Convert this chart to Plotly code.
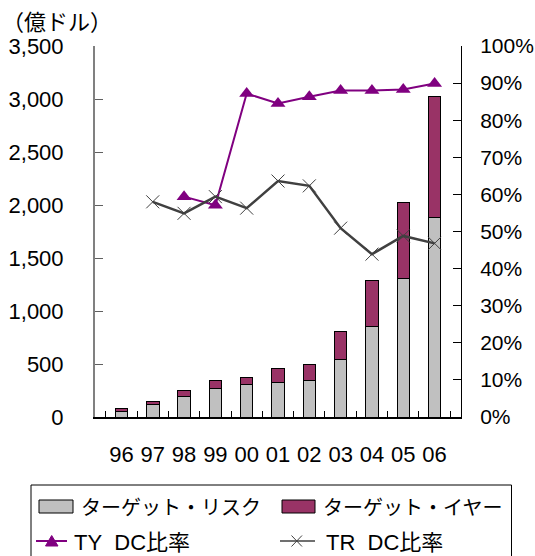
import plotly.graph_objects as go

years = ["96", "97", "98", "99", "00", "01", "02", "03", "04", "05", "06"]
target_risk = [55, 117, 196, 266, 305, 330, 340, 546, 855, 1311, 1884]
target_year = [25, 26, 51, 77, 72, 126, 157, 262, 435, 714, 1138]
ty_dc = [None, None, 0.594, 0.571, 0.872, 0.845, 0.863, 0.880, 0.880, 0.883, 0.899]
tr_dc = [None, 0.580, 0.549, 0.594, 0.563, 0.636, 0.623, 0.509, 0.439, 0.488, 0.468]

legend_names = ["ターゲット・リスク", "ターゲット・イヤー", "TY\u00a0\u00a0DC比率", "TR\u00a0\u00a0DC比率"]

FONT = "Liberation Sans, Arial, Noto Sans CJK JP"
JFONT = "Noto Sans CJK JP, Liberation Sans"

W, H = 535, 556
ML, MR, MT, MB = 95, 74, 46, 139
PW, PH = W - ML - MR, H - MT - MB


def px(xp):
    return (xp - ML) / PW


def py(yp):
    return (H - MB - yp) / PH


GREY, MAROON, PURPLE, DARK = "#C0C0C0", "#993366", "#800080", "#404040"

fig = go.Figure()
fig.add_bar(x=years, y=target_risk, name=legend_names[0],
            marker=dict(color=GREY, line=dict(color="black", width=1)), width=0.4)
fig.add_bar(x=years, y=target_year, name=legend_names[1],
            marker=dict(color=MAROON, line=dict(color="black", width=1)), width=0.4)
fig.add_scatter(x=years, y=ty_dc, name=legend_names[2], yaxis="y2", mode="lines+markers",
                line=dict(color=PURPLE, width=2),
                marker=dict(symbol="triangle-up", size=13, color=PURPLE))
fig.add_scatter(x=years, y=tr_dc, name=legend_names[3], yaxis="y2", mode="lines+markers",
                line=dict(color=DARK, width=2.5),
                marker=dict(symbol="x-thin-open", size=13, color=DARK,
                            line=dict(color=DARK, width=1)))

shapes = [
    # legend frame
    dict(type="rect", xref="paper", yref="paper", x0=px(31), x1=px(511.5), y0=py(485), y1=py(600),
         line=dict(color="black", width=1), fillcolor="white", layer="below"),
    # swatches
    dict(type="rect", xref="paper", yref="paper", x0=px(39), x1=px(73), y0=py(500), y1=py(513),
         line=dict(color="black", width=1), fillcolor=GREY),
    dict(type="rect", xref="paper", yref="paper", x0=px(282), x1=px(315), y0=py(500), y1=py(513),
         line=dict(color="black", width=1), fillcolor=MAROON),
    dict(type="line", xref="paper", yref="paper", x0=px(36), x1=px(67), y0=py(541), y1=py(541),
         line=dict(color=PURPLE, width=2)),
    dict(type="path", xref="paper", yref="paper",
         path=f"M {px(45.5)} {py(546)} L {px(58)} {py(546)} L {px(51.7)} {py(535.5)} Z",
         line=dict(color=PURPLE, width=1), fillcolor=PURPLE),
    dict(type="line", xref="paper", yref="paper", x0=px(280), x1=px(315), y0=py(541), y1=py(541),
         line=dict(color=DARK, width=1.3)),
    dict(type="line", xref="paper", yref="paper", x0=px(291.5), x1=px(302), y0=py(535.5), y1=py(546.5),
         line=dict(color=DARK, width=1)),
    dict(type="line", xref="paper", yref="paper", x0=px(291.5), x1=px(302), y0=py(546.5), y1=py(535.5),
         line=dict(color=DARK, width=1)),
]

annotations = [
    dict(text="（億ドル）", xref="paper", yref="paper", x=px(0), y=py(20),
         xanchor="left", yanchor="middle", showarrow=False, font=dict(family=JFONT, size=22)),
    dict(text=legend_names[0], xref="paper", yref="paper", x=px(79), y=py(506.5),
         xanchor="left", yanchor="middle", showarrow=False, font=dict(family=JFONT, size=20)),
    dict(text=legend_names[1], xref="paper", yref="paper", x=px(321), y=py(506.5),
         xanchor="left", yanchor="middle", showarrow=False, font=dict(family=JFONT, size=20)),
    dict(text=legend_names[2], xref="paper", yref="paper", x=px(72), y=py(542),
         xanchor="left", yanchor="middle", showarrow=False, font=dict(family=FONT, size=22)),
    dict(text=legend_names[3], xref="paper", yref="paper", x=px(324), y=py(542),
         xanchor="left", yanchor="middle", showarrow=False, font=dict(family=FONT, size=22)),
]

fig.update_layout(
    width=W, height=H,
    margin=dict(l=ML, r=MR, t=MT, b=MB, autoexpand=False),
    barmode="stack",
    plot_bgcolor="white", paper_bgcolor="white",
    font=dict(family=FONT, size=22, color="black"),
    showlegend=False,
    xaxis=dict(type="category", showline=True, linecolor="black", linewidth=2,
               ticks="inside", ticklen=6, tickcolor="black", tickson="boundaries",
               tickangle=0, tickfont=dict(size=22), ticklabelstandoff=17, showgrid=False,
               automargin=False),
    yaxis=dict(range=[0, 3500], dtick=500, tickformat=",", showline=True,
               linecolor="#808080", linewidth=2, ticks="inside", ticklen=8,
               tickcolor="#606060", showgrid=False, zeroline=False,
               ticklabelstandoff=25, tickfont=dict(size=22), automargin=False),
    yaxis2=dict(range=[0, 1], dtick=0.1, tickformat=".0%", overlaying="y", side="right",
                showline=True, linecolor="black", linewidth=1, ticks="inside",
                ticklen=8, tickcolor="black", showgrid=False, zeroline=False,
                ticklabelstandoff=14, tickfont=dict(size=21), automargin=False),
    shapes=shapes,
    annotations=annotations,
)

fig.write_html("out.html")
